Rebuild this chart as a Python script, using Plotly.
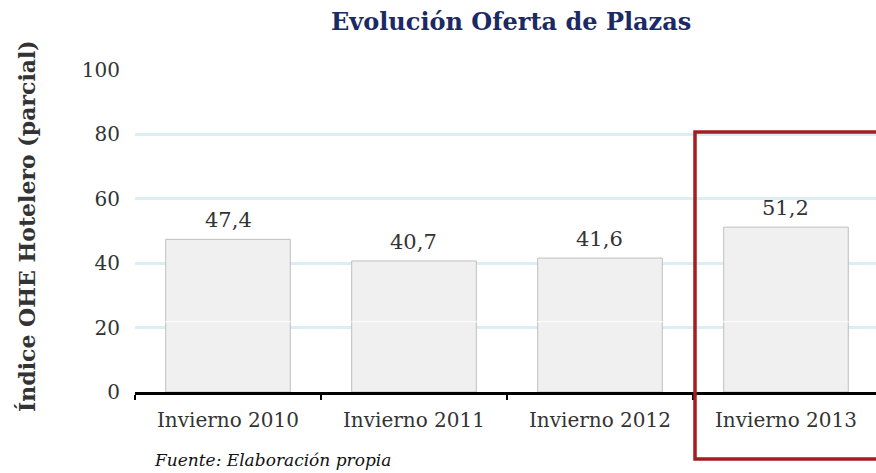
import plotly.graph_objects as go

categories = ["Invierno 2010", "Invierno 2011", "Invierno 2012", "Invierno 2013"]
values = [47.4, 40.7, 41.6, 51.2]
labels = [f"{v:.1f}".replace(".", ",") for v in values]
y_ticks = [0, 20, 40, 60, 80, 100]

SERIF = "Georgia, 'DejaVu Serif', serif"
W, H = 876, 473
L, R, T, B = 135, 0, 70, 81
pw, ph = W - L - R, H - T - B

def px(x):
    return (x - L) / pw

def py(y):
    return (H - B - y) / ph

fig = go.Figure()
fig.add_trace(go.Bar(
    x=categories, y=values, width=0.67,
    marker=dict(color="#f0f0f0", line=dict(color="#bfbfbf", width=1)),
    hoverinfo="skip",
))

annotations = []
for c, v, t in zip(categories, values, labels):
    annotations.append(dict(x=c, y=v, xref="x", yref="y", text=t, showarrow=False,
                            yanchor="bottom", yshift=5,
                            font=dict(family=SERIF, size=21, color="#333333")))

annotations += [
    dict(x=px(511), y=py(21), xref="paper", yref="paper", text="<b>Evolución Oferta de Plazas</b>",
         showarrow=False, xanchor="center", yanchor="middle",
         font=dict(family=SERIF, size=24, color="#1b2a63")),
    dict(x=px(27), y=py(226), xref="paper", yref="paper", text="<b>Índice OHE Hotelero (parcial)</b>",
         showarrow=False, textangle=-90, xanchor="center", yanchor="middle",
         font=dict(family=SERIF, size=22, color="#333333")),
    dict(x=px(152), y=py(460), xref="paper", yref="paper", text="<i>Fuente: Elaboración propia</i>",
         showarrow=False, xanchor="left", yanchor="middle",
         font=dict(family=SERIF, size=17, color="#111111")),
]

shapes = [
    dict(type="line", xref="paper", yref="y", x0=0, x1=1, y0=21.8, y1=21.8,
         line=dict(color="white", width=1), layer="above"),
    dict(type="rect", xref="paper", yref="paper",
         x0=px(695), x1=px(890), y0=py(459), y1=py(132),
         line=dict(color="#a31d22", width=3.5), fillcolor="rgba(0,0,0,0)", layer="above"),
]

fig.update_layout(
    width=W, height=H,
    margin=dict(l=L, r=R, t=T, b=B),
    plot_bgcolor="white", paper_bgcolor="white",
    showlegend=False,
    annotations=annotations,
    shapes=shapes,
    xaxis=dict(
        range=[-0.5, 3.484],
        showline=True, linecolor="black", linewidth=2.5,
        ticks="outside", tickson="boundaries", ticklen=5, tickwidth=2, tickcolor="black",
        showgrid=False,
        ticklabelstandoff=8,
        tickfont=dict(family=SERIF, size=20, color="#333333"),
    ),
    yaxis=dict(
        range=[0, 100],
        tickvals=y_ticks,
        showgrid=True, gridcolor="#daeef3", gridwidth=2.5,
        zeroline=False, showline=False,
        ticklabelstandoff=14,
        tickfont=dict(family=SERIF, size=20, color="#333333"),
    ),
)

fig.write_html("out.html", config={"displayModeBar": False},
               post_script="document.body.style.margin='0';document.body.style.overflow='hidden';")
